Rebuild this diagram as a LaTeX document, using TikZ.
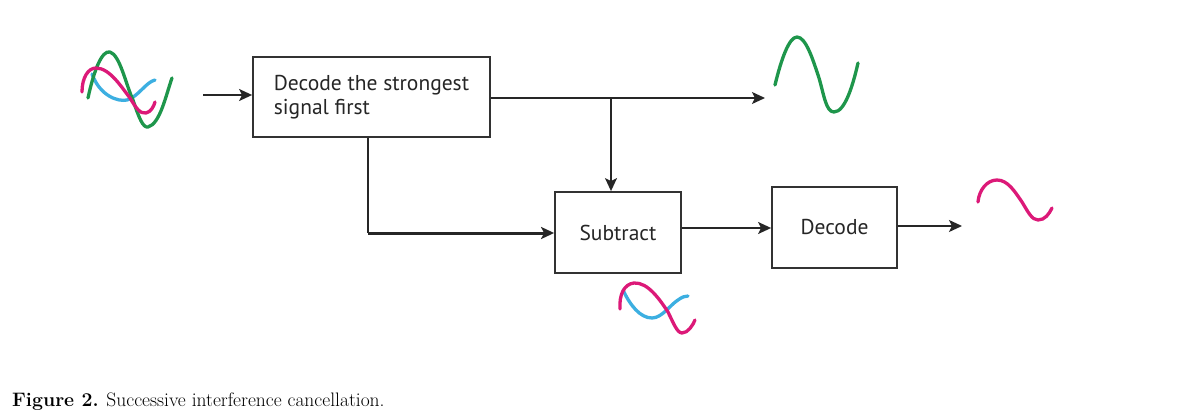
\documentclass[tikz,border=0pt]{standalone}
\usepackage{fontspec}
\newfontfamily\boxfont{PT Sans}
\usetikzlibrary{arrows.meta}
\definecolor{wgreen}{RGB}{30,150,75}
\definecolor{wmag}{RGB}{220,25,120}
\definecolor{wcyan}{RGB}{60,175,225}
\definecolor{boxgray}{RGB}{50,50,50}
\tikzset{
  blk/.style={draw=boxgray, line width=1.8pt, rectangle, inner sep=0pt, font=\boxfont\fontsize{21.5}{24}\selectfont, text=black!85},
  conn/.style={draw=black!85, line width=1.5pt, -{Stealth[length=13pt,width=12pt,inset=3pt]}},
  thick conn/.style={conn, line width=3pt},
  wave/.style={line width=3.3pt, line cap=round, line join=round},
}
\begin{document}
\begin{tikzpicture}[x=1pt,y=-1pt]
\useasboundingbox[fill=white] (0,0) rectangle (1200,417);
% blocks
\node[blk, minimum width=237pt, minimum height=80pt, align=left] (b1) at (371.5,97) {Decode the strongest\\signal first};
\node[blk, minimum width=126pt, minimum height=81pt] (s) at (618,232.5) {Subtract};
\node[blk, minimum width=125pt, minimum height=81pt] (d) at (834.5,227.5) {Decode};
% coordinates
\coordinate (in) at (203,95);
\coordinate (out1) at (765,98);
\coordinate (br) at (611,98);
\coordinate (dn) at (368,233);
\coordinate (out2) at (962,226);
% connectors
\draw[conn] (in) -- (b1.west |- in);
\draw[conn] (b1.east |- out1) -- (out1);
\draw[conn] (br) -- (br |- s.north);
\draw[line width=1.5pt, draw=black!85] (b1.south -| dn) -- (dn);
\draw[thick conn] (dn) -- (s.west |- dn);
\draw[conn] (s.east |- 0,228) -- (d.west |- 0,228);
\draw[conn] (d.east |- out2) -- (out2);
% input waves
\draw[wave, wcyan] (92,74) .. controls (100,96) and (118,102) .. (127,100) .. controls (138,97) and (146,82) .. (155,80);
\draw[wave, wgreen] (88,98) .. controls (94,70) and (102,50) .. (110,52) .. controls (120,55) and (126,85) .. (133,100) .. controls (139,118) and (143,128) .. (148,127) .. controls (160,124) and (166,95) .. (172,78);
\draw[wave, wmag] (82,92) .. controls (82,78) and (88,68) .. (96,68) .. controls (110,68) and (122,88) .. (130,98) .. controls (136,108) and (140,114) .. (146,113) .. controls (151,112) and (154,106) .. (155,102);
% output green
\draw[wave, wgreen] (775,85) .. controls (781,60) and (789,37) .. (797,37) .. controls (806,37) and (813,60) .. (819,78) .. controls (824,95) and (826,112) .. (834,112) .. controls (845,112) and (853,85) .. (858,63);
% subtract residue
\draw[wave, wcyan] (623,290) .. controls (630,305) and (640,318) .. (652,318) .. controls (662,318) and (670,305) .. (678,300) .. controls (682,297) and (685,296) .. (688,296);
\draw[wave, wmag] (620,309) .. controls (619,295) and (624,284) .. (634,283) .. controls (648,282) and (660,300) .. (668,312) .. controls (673,322) and (677,333) .. (682,333) .. controls (688,333) and (693,325) .. (695,320);
% output magenta
\draw[wave, wmag] (978,202) .. controls (979,190) and (987,180) .. (997,180) .. controls (1008,180) and (1015,192) .. (1022,202) .. controls (1028,212) and (1032,220) .. (1038,220) .. controls (1045,220) and (1049,214) .. (1052,208);
% caption
\node[anchor=base west, inner sep=0pt, font=\fontsize{19.5}{23}\selectfont] (cap) at (12,406) {\textbf{Figure 2.} Successive interference cancellation.};
\end{tikzpicture}
\end{document}
